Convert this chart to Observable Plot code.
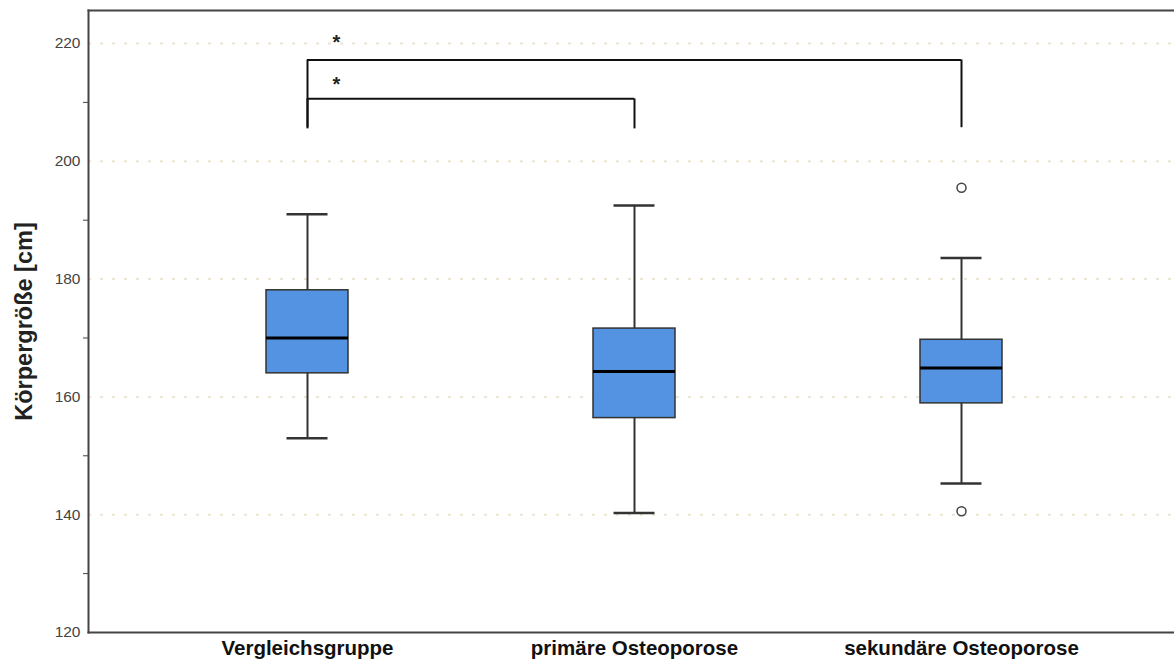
<!DOCTYPE html>
<html><head><meta charset="utf-8">
<script src="https://cdn.jsdelivr.net/npm/d3@7"></script>
<script src="https://cdn.jsdelivr.net/npm/@observablehq/plot@0.6"></script>
<style>body{margin:0;background:#fff} #chart svg{display:block}</style>
</head><body><div id="chart"></div>
<script>
const groups = ["Vergleichsgruppe", "primäre Osteoporose", "sekundäre Osteoporose"];
const whiskerLow = [153.0, 140.3, 145.3];
const q1 = [164.0, 156.4, 158.9];
const median = [170.0, 164.3, 164.9];
const q3 = [178.1, 171.6, 169.7];
const whiskerHigh = [191.0, 192.5, 183.6];
const outlierGroups = ["sekundäre Osteoporose", "sekundäre Osteoporose"];
const outlierValues = [195.5, 140.6];
const yTicks = [120, 140, 160, 180, 200, 220];
const yMinorTicks = [130, 150, 170, 190, 210];
const gridValues = [140, 160, 180, 200, 220];
const bracketFrom = ["Vergleichsgruppe", "Vergleichsgruppe"];
const bracketTo = ["sekundäre Osteoporose", "primäre Osteoporose"];
const bracketTop = [217.2, 210.6];
const bracketFoot = [205.7, 205.5];
const starLabels = ["*", "*"];
const starY = [220.1, 213.0];
const yLabel = "Körpergröße [cm]";

const stats = groups.map((g, i) => ({group: g, lo: whiskerLow[i], q1: q1[i], med: median[i], q3: q3[i], hi: whiskerHigh[i]}));
const outliers = outlierGroups.map((g, i) => ({group: g, value: outlierValues[i]}));
const brackets = bracketFrom.map((f, i) => ({from: f, to: bracketTo[i], top: bracketTop[i], foot: bracketFoot[i]}));
const stars = starLabels.map((s, i) => ({group: groups[0], y: starY[i], label: s}));

const chart = Plot.plot({
  width: 1174, height: 661,
  marginLeft: 88, marginRight: 0, marginTop: 10, marginBottom: 29,
  style: {fontFamily: "'Liberation Sans', Arial, sans-serif", background: "#fff"},
  x: {type: "band", domain: groups, range: [265.7, 1002.6], paddingInner: 0.75, paddingOuter: 0},
  y: {domain: [120, 225.6]},
  marks: [
    Plot.ruleY(gridValues, {stroke: "#ebe6d4", strokeWidth: 2, strokeDasharray: "3,9"}),
    Plot.frame({anchor: "top", stroke: "#444", strokeWidth: 2}),
    Plot.frame({anchor: "left", stroke: "#444", strokeWidth: 2}),
    Plot.frame({anchor: "bottom", stroke: "#444", strokeWidth: 2}),
    Plot.axisY(yTicks, {tickSize: 0, tickPadding: 8, fontSize: 15.5, fill: "#444", label: null}),
    Plot.axisY(yMinorTicks, {tickSize: 5, tickFormat: () => "", stroke: "#444", label: null}),
    Plot.axisX({tickSize: 0, tickPadding: 8, fontSize: 20.5, fontWeight: "bold", fill: "#111", label: null}),
    Plot.text([yLabel], {frameAnchor: "left", textAnchor: "middle", rotate: -90, dx: -64.5, fontSize: 23.5, fontWeight: "bold", fill: "#222"}),
    Plot.ruleX(stats, {x: "group", y1: "lo", y2: "q1", stroke: "#333", strokeWidth: 2}),
    Plot.ruleX(stats, {x: "group", y1: "q3", y2: "hi", stroke: "#333", strokeWidth: 2}),
    Plot.tickY(stats, {x: "group", y: "lo", insetLeft: 20.5, insetRight: 20.5, stroke: "#333", strokeWidth: 2.5}),
    Plot.tickY(stats, {x: "group", y: "hi", insetLeft: 20.5, insetRight: 20.5, stroke: "#333", strokeWidth: 2.5}),
    Plot.barY(stats, {x: "group", y1: "q1", y2: "q3", fill: "#5393e2", stroke: "#333", strokeWidth: 1.5}),
    Plot.tickY(stats, {x: "group", y: "med", stroke: "#000", strokeWidth: 3}),
    Plot.dot(outliers, {x: "group", y: "value", r: 4.5, fill: "#fff", stroke: "#444", strokeWidth: 1.5}),
    Plot.ruleY(brackets, {x1: "from", x2: "to", y: "top", insetLeft: 41, insetRight: 41, stroke: "#111", strokeWidth: 2}),
    Plot.ruleX(brackets, {x: "from", y1: "foot", y2: "top", stroke: "#111", strokeWidth: 2}),
    Plot.ruleX(brackets, {x: "to", y1: "foot", y2: "top", stroke: "#111", strokeWidth: 2}),
    Plot.text(stars, {x: "group", y: "y", text: "label", dx: 29, fontSize: 20, fontWeight: "bold", fill: "#222"})
  ]
});
document.getElementById("chart").appendChild(chart);
</script>
</body></html>
